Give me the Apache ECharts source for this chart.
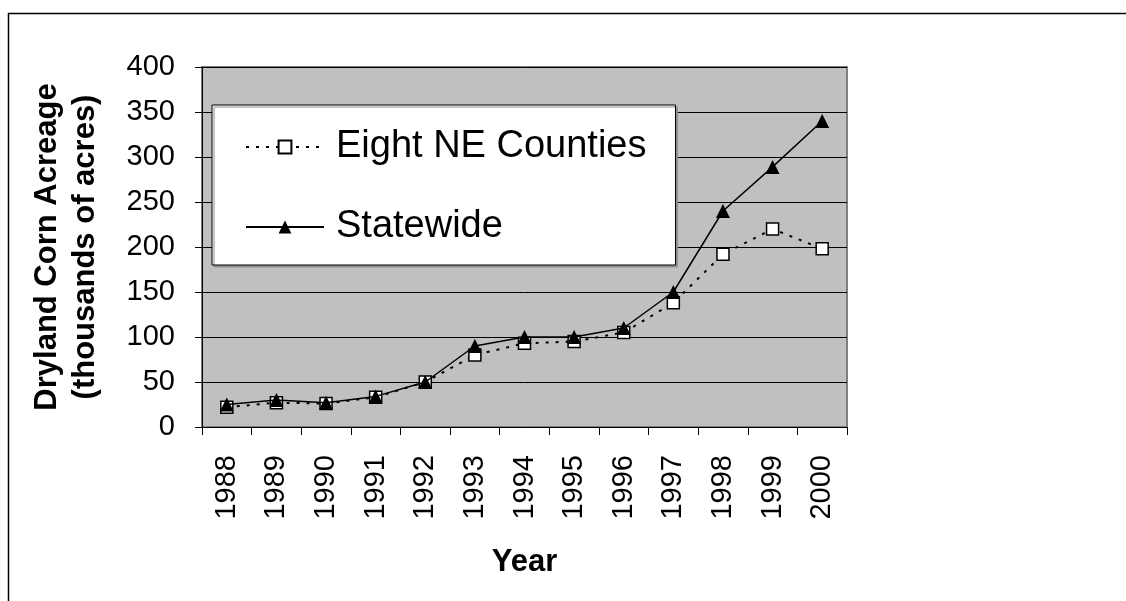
<!DOCTYPE html>
<html>
<head>
<meta charset="utf-8">
<script src="https://cdn.jsdelivr.net/npm/echarts@6/dist/echarts.min.js"></script>
<style>
  html, body { margin: 0; padding: 0; background: #fff; }
  #chart { width: 1126px; height: 601px; }
</style>
</head>
<body>
<div id="chart"></div>
<script>
// Dryland corn acreage, thousands of acres
const years = ['1988', '1989', '1990', '1991', '1992', '1993', '1994',
               '1995', '1996', '1997', '1998', '1999', '2000'];
const eightNECounties = [22, 27, 26, 33, 50, 80, 93, 95, 105, 138, 192, 220, 198];
const statewide = [25, 30, 27, 34, 50, 90, 100, 100, 110, 150, 240, 289, 340];
const yTicks = { min: 0, max: 400, interval: 50 };

const FONT = '"Liberation Sans", Arial, sans-serif';

const chart = echarts.init(document.getElementById('chart'));
chart.setOption({
  backgroundColor: '#ffffff',
  animation: false,
  textStyle: { fontFamily: FONT, color: '#000' },
  graphic: [{
    type: 'rect',
    left: 6, top: 11,
    shape: { width: 1140, height: 620 },
    style: { fill: 'none', stroke: '#000', lineWidth: 1.5 },
    silent: true
  }],
  grid: {
    left: 202, top: 67, right: 279, bottom: 174,
    show: true,
    backgroundColor: '#c0c0c0',
    borderColor: '#808080',
    borderWidth: 2
  },
  legend: {
    orient: 'vertical',
    left: 212, top: 105,
    padding: [22, 29, 18, 33],
    itemWidth: 78, itemHeight: 16, itemGap: 40,
    backgroundColor: '#ffffff',
    borderColor: '#000', borderWidth: 1,
    shadowColor: '#909090', shadowOffsetX: 2, shadowOffsetY: 2, shadowBlur: 0,
    textStyle: { fontSize: 38, color: '#000', fontFamily: FONT, lineHeight: 40, padding: [0, 0, 0, 7] },
    data: ['Eight NE Counties', 'Statewide']
  },
  xAxis: {
    type: 'category',
    data: years,
    boundaryGap: true,
    name: 'Year',
    nameLocation: 'middle',
    nameGap: 120,
    nameTextStyle: { fontSize: 31, fontWeight: 'bold', color: '#000', fontFamily: FONT },
    axisLine: { lineStyle: { color: '#000', width: 1 } },
    axisTick: { show: true, length: 8, lineStyle: { color: '#000' } },
    axisLabel: { rotate: 90, fontSize: 29, color: '#000', margin: 28, fontFamily: FONT },
    splitLine: { show: false }
  },
  yAxis: {
    type: 'value',
    min: yTicks.min, max: yTicks.max, interval: yTicks.interval,
    name: 'Dryland Corn Acreage\n(thousands of acres)',
    nameLocation: 'middle',
    nameRotate: 90,
    nameGap: 98,
    nameTextStyle: { fontSize: 31, fontWeight: 'bold', color: '#000', fontFamily: FONT, lineHeight: 38 },
    axisLine: { show: true, lineStyle: { color: '#000', width: 1 } },
    axisTick: { show: true, length: 7, lineStyle: { color: '#000' } },
    axisLabel: { fontSize: 29, color: '#000', margin: 27, fontFamily: FONT },
    splitLine: { show: true, lineStyle: { color: '#000', width: 1 } }
  },
  series: [
    {
      name: 'Eight NE Counties',
      type: 'line',
      data: eightNECounties,
      symbol: 'rect',
      symbolSize: 12,
      itemStyle: { color: '#ffffff', borderColor: '#000', borderWidth: 1.5 },
      lineStyle: { color: '#000', width: 2, type: [3, 7] },
      z: 3
    },
    {
      name: 'Statewide',
      type: 'line',
      data: statewide,
      symbol: 'triangle',
      symbolSize: 14,
      itemStyle: { color: '#000', borderColor: '#000', borderWidth: 0 },
      lineStyle: { color: '#000', width: 1.5, type: 'solid' },
      z: 4
    }
  ]
});
</script>
</body>
</html>
